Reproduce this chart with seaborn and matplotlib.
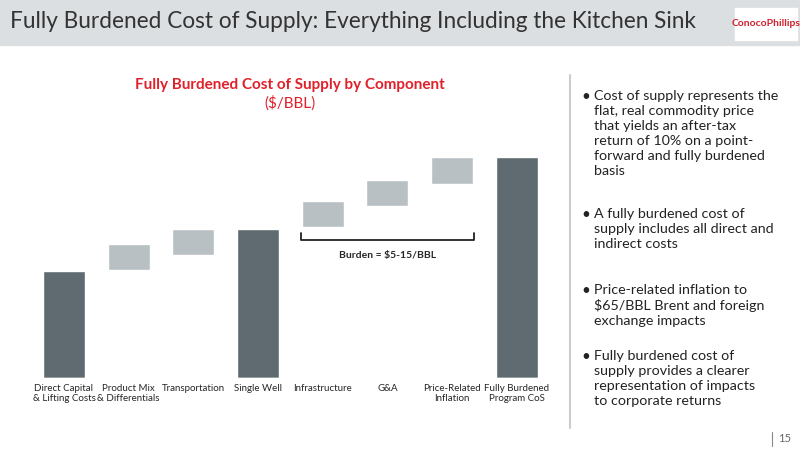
import matplotlib
matplotlib.use("Agg")
import matplotlib.pyplot as plt
import seaborn as sns
import pandas as pd
from matplotlib.patches import Rectangle

categories = ["Direct Capital\n& Lifting Costs", "Product Mix\n& Differentials", "Transportation",
              "Single Well", "Infrastructure", "G&A", "Price-Related\nInflation", "Fully Burdened\nProgram CoS"]
bottoms = [0, 108, 123, 0, 151, 172, 194, 0]
tops = [107, 134, 149, 149, 177, 198, 221, 221]
kinds = ["total", "step", "step", "total", "step", "step", "step", "total"]
bullets = [
    "Cost of supply represents the\nflat, real commodity price\nthat yields an after-tax\nreturn of 10% on a point-\nforward and fully burdened\nbasis",
    "A fully burdened cost of\nsupply includes all direct and\nindirect costs",
    "Price-related inflation to\n$65/BBL Brent and foreign\nexchange impacts",
    "Fully burdened cost of\nsupply provides a clearer\nrepresentation of impacts\nto corporate returns",
]

sns.set_theme(style="white")
plt.rcParams['font.family'] = ['Lato', 'DejaVu Sans']
fig = plt.figure(figsize=(8, 4.5), dpi=100)
fig.patch.set_facecolor("white")

# header
fig.patches.append(Rectangle((0, 1 - 45/450), 1, 45/450, transform=fig.transFigure, color="#dcdfe1", zorder=0))
fig.text(10/800, 1 - 22/450, "Fully Burdened Cost of Supply: Everything Including the Kitchen Sink",
         fontsize=16.3, color="#333333", va="center")
fig.patches.append(Rectangle((735/800, 1 - 40/450), 62/800, 32/450, transform=fig.transFigure, color="white", zorder=1))
fig.text(766/800, 1 - 24/450, "ConocoPhillips", fontsize=7.5, color="#d0202e", ha="center", va="center",
         fontweight="bold", zorder=2)

df = pd.DataFrame({"cat": categories, "bottom": bottoms, "top": tops, "kind": kinds})
colors = ["#5f6b71" if k == "total" else "#b9c0c4" for k in kinds]
ax = fig.add_axes([31.6/800, 1 - 378/450, 517.6/800, 298/450])
sns.barplot(data=df, x="cat", y="top", hue="cat", palette=colors, width=0.65,
            legend=False, ax=ax, saturation=1)
sns.barplot(data=df, x="cat", y="bottom", color="white", width=0.67, ax=ax, saturation=1)
ax.set_xlim(-0.5, 7.5)
ax.set_ylim(0, 298)
ax.set_xlabel(""); ax.set_ylabel("")
ax.set_yticks([])
ax.tick_params(axis="x", labelsize=7, length=0, pad=4)
for s in ax.spines.values():
    s.set_visible(False)

# burden bracket
yb = 378 - 240
ax.plot([4 - 0.33, 4 - 0.33, 6 + 0.33, 6 + 0.33], [yb + 7, yb, yb, yb + 7], color="#222222", lw=1.3)
ax.text(5, yb - 16, "Burden = $5-15/BBL", ha="center", va="center", fontsize=7.5, fontweight="bold")

fig.text(290/800, 1 - 85/450, "Fully Burdened Cost of Supply by Component", color="#e0212b",
         fontsize=11, fontweight="bold", ha="center", va="center")
fig.text(290/800, 1 - 103/450, "($/BBL)", color="#e0212b", fontsize=11, ha="center", va="center")

# right panel
fig.add_artist(plt.Line2D([570/800, 570/800], [1 - 75/450, 1 - 428/450], color="#cccccc", lw=1.5))
ys = [90, 208, 284, 350]
for y, b in zip(ys, bullets):
    fig.text(581/800, 1 - y/450, "•", fontsize=11, va="top", color="#222222")
    fig.text(594/800, 1 - y/450, b, fontsize=10.3, va="top", color="#222222", linespacing=1.3)

fig.add_artist(plt.Line2D([772/800, 772/800], [1 - 432/450, 1 - 446/450], color="#888888", lw=0.8))
fig.text(778/800, 1 - 439/450, "15", fontsize=8, color="#666666", va="center")

fig.savefig("out.png", dpi=100)
